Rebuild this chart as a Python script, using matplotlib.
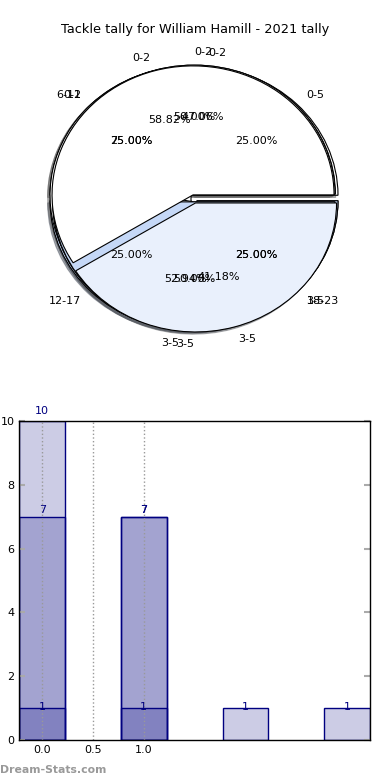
import numpy as np
import matplotlib
matplotlib.use("Agg")
import matplotlib.pyplot as plt

title = "Tackle tally for William Hamill - 2021 tally"

# pies drawn one over another (last one ends on top)
quarter_vals = [1, 1, 1, 1]
quarter_labels = ["0-5", "6-11", "12-17", "18-23"]
three_one_vals = [3, 1]
eight_nine_vals = [8, 9]
one_one_vals = [1, 1]
ten_seven_vals = [10, 7]
pair_labels = ["0-2", "3-5"]

# bar series
bar_x = [0, 1, 2, 3]
series_a = [10, 7, 1, 1]
series_b_x = [0, 1]
series_b = [7, 7]
series_c_x = [0, 1]
series_c = [1, 1]
xtick_vals = [0.0, 0.5, 1.0]

white = "white"
light = "#c5d8f7"
pale = "#e9f0fc"

fig = plt.figure(figsize=(3.9, 7.8), dpi=100)

# ---- pie part ----
rx, ry = 141, 129
cx, cy = 194, 198
ax = fig.add_axes([(cx - 1.25 * rx) / 390, 1 - (cy + 1.25 * ry) / 780,
                   2.5 * rx / 390, 2.5 * ry / 780])
pies = [
    (quarter_vals, quarter_labels, [white, white, light, pale], [0.03] * 4),
    (three_one_vals, pair_labels, [white, light], [0.03, 0.03]),
    (eight_nine_vals, pair_labels, [white, pale], [0.03, 0.03]),
    (one_one_vals, pair_labels, [white, light], [0.03, 0.03]),
    (ten_seven_vals, pair_labels, [white, pale], [0.025, 0.04]),
]
for vals, labs, cols, expl in pies:
    wedges, texts, autotexts = ax.pie(vals, labels=labs, colors=cols, explode=expl,
                                      autopct="%1.2f%%",
                                      shadow={"ox": -0.012, "oy": -0.012, "shade": 0.6},
                                      startangle=0,
                                      wedgeprops=dict(edgecolor="black", linewidth=0.8),
                                      textprops=dict(fontsize=8))
    # labels sitting exactly on the vertical axis: left above, right below
    for t in texts:
        x, y = t.get_position()
        if abs(x) < 1e-6:
            t.set_ha("left" if y > 0 else "right")
ax.set_aspect("auto")
ax.set_xlim(-1.25, 1.25)
ax.set_ylim(-1.25, 1.25)
fig.text(0.5, 1 - 30 / 780, title, ha="center", va="center", fontsize=9.3)

# ---- bar part ----
ax2 = fig.add_axes([19.3 / 390, 40 / 780, 350.7 / 390, 319 / 780])
bar_kw = dict(width=0.45, color=(0, 0, 0.5, 0.2), edgecolor="navy", linewidth=1)
for xs, ys in [(bar_x, series_a), (series_b_x, series_b), (series_c_x, series_c)]:
    ax2.bar(xs, ys, **bar_kw)
    for x, y in zip(xs, ys):
        ax2.text(x, y * 1.03, str(y), ha="center", va="center", color="navy", fontsize=8)

ax2.set_xlim(-0.225, 3.225)
ax2.set_ylim(0, 10)
ax2.set_xticks(xtick_vals)
ax2.set_xticklabels(["%.1f" % v for v in xtick_vals])
ax2.set_yticks(np.arange(0, 11, 2))
ax2.xaxis.grid(True, linestyle=":", color="#999999", linewidth=1)
ax2.tick_params(axis="both", direction="in", labelsize=8, color="#aaaaaa", width=1.5)
ax2.tick_params(axis="y", right=True, length=4)
ax2.tick_params(axis="x", length=0)
for s in ax2.spines.values():
    s.set_linewidth(1)

fig.text(0.0, 1 - 770 / 780, "Dream-Stats.com", ha="left", va="center",
         fontsize=7.8, color="#999999", fontweight="bold")

fig.savefig("out.png", dpi=100)
